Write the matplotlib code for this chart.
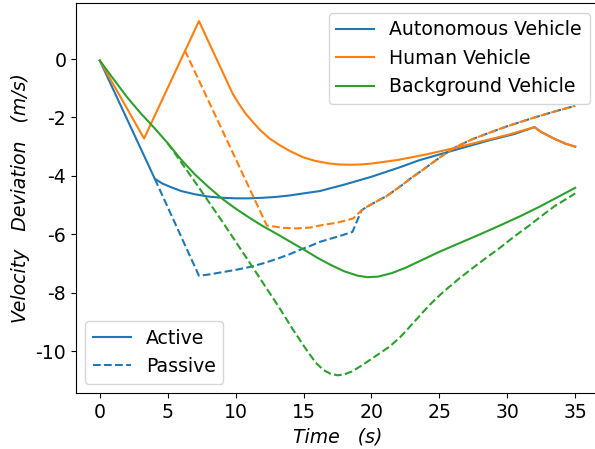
#!/usr/bin/env python
"""
Velocity deviation of the three vehicles, active vs passive
"""

import matplotlib
matplotlib.use("Agg")
import matplotlib.pyplot as plt
from matplotlib.lines import Line2D

plt.rcParams['axes.unicode_minus'] = False
plt.rcParams['font.size'] = 13.6

# autonomous vehicle
av_active_t = [0, 4.05, 4.6, 5.2, 6, 7, 8, 9, 10, 11, 12, 13, 14, 15, 16.2, 18, 20,
               22, 23.55, 26.25, 28.7, 30.5, 32.0, 32.5, 33, 33.6, 34.3, 35]
av_active_v = [-0.05, -4.1, -4.26, -4.38, -4.52, -4.63, -4.71, -4.75, -4.77, -4.77,
               -4.75, -4.72, -4.67, -4.6, -4.52, -4.3, -4.03, -3.72, -3.46, -3.1,
               -2.78, -2.57, -2.33, -2.5, -2.62, -2.76, -2.9, -3.0]
av_passive_t = [4.05, 7.3, 8, 9, 10, 11.05, 12, 13, 14, 14.7, 15.5, 16.2, 17, 17.8,
                18.6, 19.27, 19.7, 20.2, 20.6, 21.1, 21.7, 22.3, 22.9, 23.55, 24,
                24.5, 25, 25.5, 26.25, 27.5, 28.7, 30, 31.8, 33.3, 35]
av_passive_v = [-4.1, -7.42, -7.38, -7.3, -7.22, -7.12, -7.0, -6.85, -6.68, -6.54,
                -6.4, -6.26, -6.15, -6.04, -5.92, -5.18, -5.05, -4.92, -4.82, -4.7,
                -4.5, -4.3, -4.08, -3.87, -3.72, -3.55, -3.38, -3.22, -3.0, -2.73,
                -2.52, -2.3, -2.03, -1.82, -1.6]

# human vehicle
hv_active_t = [0, 3.26, 7.3, 9.8, 10.2, 10.7, 11.2, 11.8, 12.5, 13.25, 14, 14.95,
               15.8, 16.8, 17.6, 18.4, 19.2, 20, 22, 24, 26, 28, 30, 32.0, 32.5,
               33, 33.6, 34.3, 35]
hv_active_v = [-0.05, -2.72, 1.3, -1.2, -1.5, -1.85, -2.12, -2.43, -2.72, -2.95,
               -3.15, -3.36, -3.48, -3.57, -3.61, -3.62, -3.61, -3.58, -3.45, -3.27,
               -3.06, -2.83, -2.6, -2.33, -2.5, -2.62, -2.76, -2.9, -3.0]
hv_passive_t = [6.26, 12.3, 13.5, 14.5, 15.5, 16.2, 17.5, 18.65, 19.27, 19.7, 20.2,
                20.6, 21.1, 21.7, 22.3, 22.9, 23.55, 24, 24.5, 25, 25.5, 26.25,
                27.5, 28.7, 30, 31.8, 33.3, 35]
hv_passive_v = [0.3, -5.7, -5.78, -5.8, -5.77, -5.7, -5.6, -5.46, -5.18, -5.05,
                -4.92, -4.82, -4.7, -4.5, -4.3, -4.08, -3.87, -3.72, -3.55, -3.38,
                -3.22, -3.0, -2.73, -2.52, -2.3, -2.03, -1.82, -1.6]

# background vehicle
bv_active_t = [0, 1, 2, 3, 4, 5, 6, 7, 8, 9, 10, 11, 12, 13, 14, 15, 16, 17, 18,
               19, 19.7, 20.5, 21.5, 22.5, 23.5, 25, 26.5, 28, 29.5, 31, 32.4,
               33.7, 35]
bv_active_v = [-0.05, -0.68, -1.3, -1.85, -2.35, -2.88, -3.45, -3.95, -4.38, -4.78,
               -5.12, -5.43, -5.72, -5.98, -6.25, -6.52, -6.8, -7.05, -7.27, -7.42,
               -7.47, -7.45, -7.33, -7.15, -6.93, -6.6, -6.3, -6.0, -5.69, -5.37,
               -5.05, -4.73, -4.41]
bv_passive_t = [5.0, 7, 9, 11, 13.25, 14.2, 15.2, 15.9, 16.5, 17, 17.5, 18, 18.55,
                19.2, 19.9, 20.6, 21.35, 22.1, 22.7, 23.3, 24, 24.5, 25, 25.5,
                26.5, 27.5, 28.5, 29.5, 30.5, 31.65, 32.5, 33.5, 34.6, 35]
bv_passive_v = [-2.88, -4.2, -5.55, -6.95, -8.54, -9.25, -9.95, -10.4, -10.66,
                -10.78, -10.83, -10.8, -10.7, -10.52, -10.3, -10.08, -9.84, -9.53,
                -9.23, -8.92, -8.56, -8.32, -8.1, -7.89, -7.5, -7.14, -6.79, -6.45,
                -6.08, -5.69, -5.38, -5.03, -4.72, -4.6]

names = ['Autonomous Vehicle', 'Human Vehicle', 'Background Vehicle']
colors = ['tab:blue', 'tab:orange', 'tab:green']

fig = plt.figure(figsize=(5.95, 4.49), dpi=100)
ax = fig.add_axes([76/595, 56/449, 523/595, 389.6/449])

ax.plot(av_active_t, av_active_v, color=colors[0], linestyle='-')
ax.plot(av_passive_t, av_passive_v, color=colors[0], linestyle='--')
ax.plot(hv_active_t, hv_active_v, color=colors[1], linestyle='-')
ax.plot(hv_passive_t, hv_passive_v, color=colors[1], linestyle='--')
ax.plot(bv_active_t, bv_active_v, color=colors[2], linestyle='-')
ax.plot(bv_passive_t, bv_passive_v, color=colors[2], linestyle='--')

ax.set_xticks([0, 5, 10, 15, 20, 25, 30, 35])
ax.set_yticks([0, -2, -4, -6, -8, -10])
ax.set_xlabel('Time   (s)', fontstyle='italic')
ax.set_ylabel('Velocity   Deviation   (m/s)', fontstyle='italic')

# legend for vehicles
veh_handles = [Line2D([0], [0], color=c) for c in colors]
leg1 = ax.legend(veh_handles, names, loc='upper right')
ax.add_artist(leg1)

# legend for mode
mode_handles = [Line2D([0], [0], color=colors[0], linestyle='-'),
                Line2D([0], [0], color=colors[0], linestyle='--')]
ax.legend(mode_handles, ['Active', 'Passive'], loc='lower left')

fig.savefig('out.png', dpi=100)
